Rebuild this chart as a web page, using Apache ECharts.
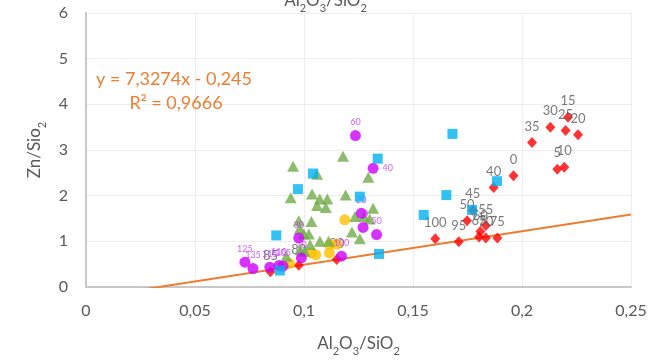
<!DOCTYPE html>
<html><head><meta charset="utf-8">
<script src="https://cdn.jsdelivr.net/npm/echarts@6/dist/echarts.min.js"></script>
<style>html,body{margin:0;padding:0;background:#fff}#c{width:651px;height:362px}</style>
</head><body><div id="c"></div>
<script>
// ---- data ----
const xTicks = ['0','0,05','0,1','0,15','0,2','0,25'];
const redX = [0.1961,0.2162,0.2194,0.2211,0.2257,0.2200,0.2130,0.2046,0.1870,0.1774,0.1748,0.1834,0.1809,0.1803,0.1834,0.1887,0.0976,0.0846,0.1150,0.1710,0.1602];
const redY = [2.435,2.578,2.622,3.717,3.333,3.426,3.500,3.165,2.180,1.680,1.448,1.348,1.217,1.093,1.072,1.072,0.474,0.333,0.604,0.991,1.057];
const redLabels = ['0','5','10','15','20','25','30','35','40','45','50','55','60','65','70','75','80','85','90','95','100'];

const blueX = [0.1681,0.1338,0.1041,0.0972,0.1256,0.1653,0.1549,0.0873,0.1344,0.0889,0.1771,0.1885];
const blueY = [3.354,2.811,2.485,2.143,1.978,2.013,1.578,1.130,0.724,0.361,1.687,2.317];

const greenX = [0.0950,0.1179,0.1060,0.1295,0.0939,0.1037,0.1072,0.1107,0.1191,0.1060,0.1100,0.1317,0.1234,0.1275,0.1301,0.1034,0.0976,0.0980,0.0999,0.1022,0.1220,0.1256,0.1073,0.1113,0.1028,0.0983,0.0919,0.1003];
const greenY = [2.643,2.861,2.470,2.404,1.957,2.035,1.926,1.926,2.013,1.783,1.739,1.724,1.543,1.543,1.491,1.435,1.448,1.274,1.159,1.159,1.202,1.057,1.000,1.000,0.926,0.817,0.674,0.783];

const purpleX = [0.1236,0.1317,0.1263,0.1271,0.1333,0.0976,0.0988,0.1172,0.0729,0.0766,0.0843,0.0885,0.0904];
const purpleY = [3.317,2.600,1.615,1.304,1.148,1.072,0.637,0.674,0.543,0.404,0.435,0.470,0.457];
const purpleLabels = ['60','40','20','10','50','30','70','100','125','135','115','110','105'];

const orangeX = [0.1187,0.0934,0.1035,0.1054,0.1116,0.1118,0.1151];
const orangeY = [1.470,0.513,0.746,0.702,0.746,0.926,0.941];

const trendSlope = 7.3274;
const trendIntercept = -0.245;
const trendText = 'y = 7,3274x - 0,245';
const r2Text = 'R² = 0,9666';

// ---- chart ----
const FONT = 'Lato, "Open Sans", sans-serif';
const zip = (xs, ys) => xs.map((x, i) => [x, ys[i]]);
const subRich = {
  n: {fontSize: 17, fontFamily: FONT, fontWeight: 'normal', color: '#595959', lineHeight: 22},
  s: {fontSize: 11, fontFamily: FONT, fontWeight: 'normal', color: '#595959', verticalAlign: 'bottom', padding: [0,0,-2,0]}
};
const fmtTick = v => String(Math.round(v * 100) / 100).replace('.', ',');

const chart = echarts.init(document.getElementById('c'));
chart.setOption({
  animation: false,
  backgroundColor: '#fff',
  title: {
    text: '{n|Al}{s|2}{n|O}{s|3}{n|/SiO}{s|2}',
    left: 'center', top: -15,
    textStyle: {fontWeight: 'normal', rich: subRich}
  },
  grid: {left: 86, right: 20, top: 13, bottom: 73},
  xAxis: {
    type: 'value', min: 0, max: 0.25, interval: 0.05,
    name: '{n|Al}{s|2}{n|O}{s|3}{n|/SiO}{s|2}',
    nameLocation: 'middle', nameGap: 46,
    nameTextStyle: {rich: subRich},
    axisLine: {show: true, lineStyle: {color: '#C8C8C8', width: 2}},
    axisTick: {show: false},
    axisLabel: {formatter: fmtTick, fontSize: 16, color: '#595959', fontFamily: FONT, margin: 16},
    splitLine: {show: true, lineStyle: {color: '#EDEDED', width: 1}}
  },
  yAxis: {
    type: 'value', min: 0, max: 6, interval: 1,
    name: '{n|Zn/Sio}{s|2}',
    nameLocation: 'middle', nameGap: 36, nameRotate: 90,
    nameTextStyle: {rich: subRich},
    axisLine: {show: true, lineStyle: {color: '#C8C8C8', width: 2}},
    axisTick: {show: false},
    axisLabel: {fontSize: 16, color: '#595959', fontFamily: FONT, margin: 18},
    splitLine: {show: true, lineStyle: {color: '#EDEDED', width: 1}}
  },
  graphic: [
    {type: 'text', x: 174, y: 70, z: 100, style: {text: trendText, fontSize: 18, fontFamily: FONT, fill: '#ED7D31', align: 'center'}},
    {type: 'text', x: 176, y: 94, z: 100, style: {text: r2Text, fontSize: 18, fontFamily: FONT, fill: '#ED7D31', align: 'center'}}
  ],
  series: [
    {
      type: 'line', data: [[0, trendIntercept], [0.25, trendSlope * 0.25 + trendIntercept]],
      showSymbol: false, symbol: 'none', clip: true,
      lineStyle: {color: '#ED7D31', width: 2}, z: 1
    },
    {
      type: 'scatter', data: zip(redX, redY), symbol: 'diamond', symbolSize: [10, 11],
      itemStyle: {color: '#FF0000'}, z: 2,
      label: {show: true, position: 'top', distance: 4, fontSize: 13, color: '#595959', fontFamily: FONT,
        formatter: p => redLabels[p.dataIndex]}
    },
    {
      type: 'scatter', data: zip(orangeX, orangeY), symbol: 'circle', symbolSize: 11,
      itemStyle: {color: '#FFC000'}, z: 3
    },
    {
      type: 'scatter', data: zip(greenX, greenY), symbol: 'triangle', symbolSize: [12, 11],
      itemStyle: {color: '#70AD47'}, z: 4
    },
    {
      type: 'scatter', data: zip(purpleX, purpleY).map((d, i) => ({
        value: d,
        label: purpleLabels[i] === '40' ? {position: 'right', distance: 4} : {}
      })),
      symbol: 'circle', symbolSize: 11,
      itemStyle: {color: '#CC00FF'}, z: 5,
      label: {show: true, position: 'top', distance: 3, fontSize: 9, color: '#CC33FF', fontFamily: FONT,
        formatter: p => purpleLabels[p.dataIndex]}
    },
    {
      type: 'scatter', data: zip(blueX, blueY), symbol: 'rect', symbolSize: 10,
      itemStyle: {color: '#00B0F0'}, z: 6
    }
  ]
});
</script>
</body></html>
